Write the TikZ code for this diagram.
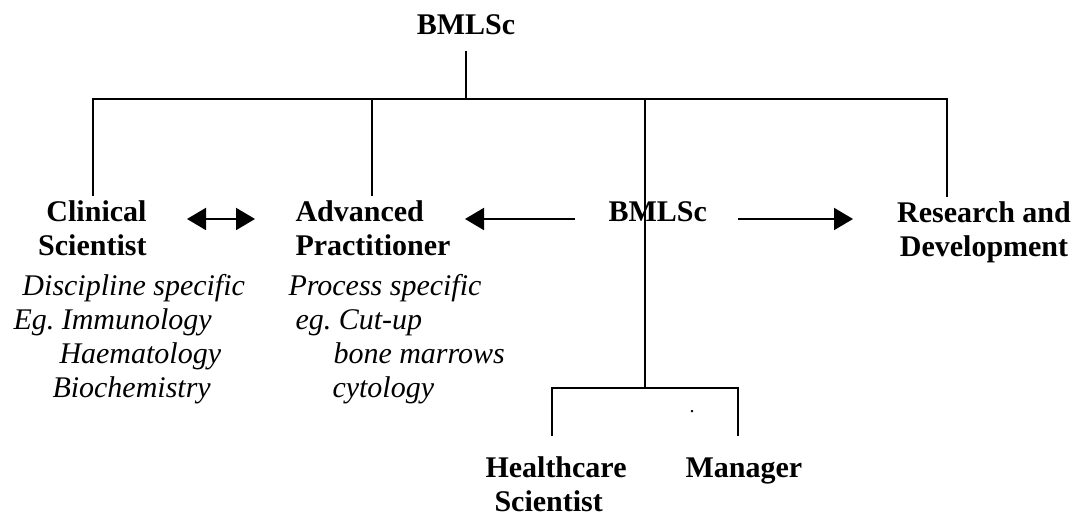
\documentclass[tikz,border=0pt]{standalone}
\usepackage{fontspec}
\setmainfont{Liberation Serif}
\usetikzlibrary{arrows.meta,positioning}

\begin{document}
\begin{tikzpicture}[x=0.4pt, y=-0.4pt,
  head/.style={font=\fontsize{12}{13.6}\selectfont\bfseries, inner sep=2pt},
  sub/.style={font=\fontsize{12}{13.6}\selectfont\itshape, inner sep=0pt, anchor=base west},
  ln/.style={line width=0.8pt},
  ar/.style={line width=0.8pt, -{Triangle[length=7.6pt,width=8.8pt]}}]
\useasboundingbox (0,0) rectangle (1079,517);
% titles (base anchor = last line)
\node[head, anchor=base, inner ysep=6pt] (top) at (466,35) {BMLSc};
\node[head, anchor=base east, align=right] (cs) at (152,256) {Clinical\\Scientist};
\node[head, anchor=base west, align=left] (ap) at (290,256) {Advanced\\Practitioner};
\node[head, anchor=base west] (mid) at (603,222) {BMLSc};
\node[head, anchor=base, align=center] (rd) at (984,257) {Research and\\Development};
\node[head, anchor=base west, align=left] (hs) at (480,512) {Healthcare\\\hspace*{3.6pt}Scientist};
\node[head, anchor=base west] (mg) at (680,478) {Manager};
\node[head, anchor=base, font=\fontsize{8}{9}\selectfont] (dot) at (692,413) {.};
% details
\node[sub] (d1) at (22,296)  {Discipline specific};
\node[sub] (d2) at (13,330)  {Eg.\ Immunology};
\node[sub] (d3) at (59,364)  {Haematology};
\node[sub] (d4) at (52,398)  {Biochemistry};
\node[sub] (p1) at (288,296) {Process specific};
\node[sub] (p2) at (295,330) {eg.\ Cut-up};
\node[sub] (p3) at (333,364) {bone marrows};
\node[sub] (p4) at (332,398) {cytology};
% tree
\coordinate (b1) at (93,99);
\coordinate (b2) at (372,99);
\coordinate (b3) at (645,99);
\coordinate (b4) at (947,99);
\coordinate (h0) at (645,388);
\coordinate (h1) at (552,388);
\coordinate (h2) at (738,388);
\coordinate (e1) at (552,436);
\coordinate (e2) at (738,436);
\draw[ln] (top.south) -- (top.south |- b1);
\draw[ln] (b1 |- cs.north) -- (b1) -- (b4) -- (b4 |- rd.north);
\draw[ln] (b2) -- (b2 |- ap.north);
\draw[ln] (b3) -- (h0);
\draw[ln] (e1) -- (h1) -- (h2) -- (e2);
% arrows
\coordinate (a1) at (187,219);
\coordinate (a2) at (255,219);
\coordinate (a3) at (575,219);
\coordinate (a4) at (465,219);
\coordinate (a5) at (738,219);
\coordinate (a6) at (853,219);
\draw[ar, {Triangle[length=7.6pt,width=8.8pt]}-{Triangle[length=7.6pt,width=8.8pt]}] (a1) -- (a2);
\draw[ar] (a3) -- (a4);
\draw[ar] (a5) -- (a6);
\end{tikzpicture}
\end{document}
